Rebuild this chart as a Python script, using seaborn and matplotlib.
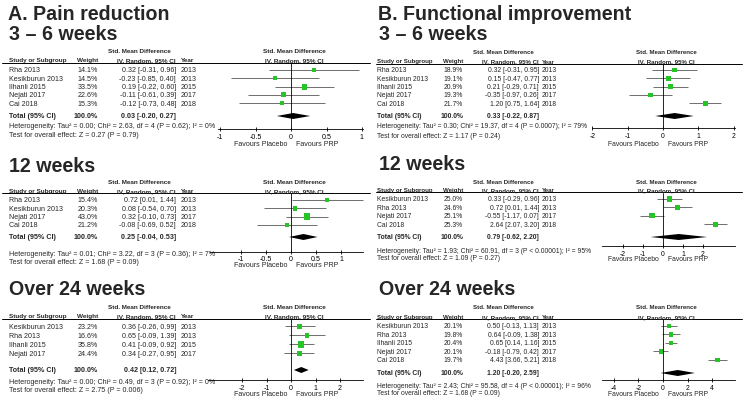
import numpy as np
import matplotlib
matplotlib.use("Agg")
import matplotlib.pyplot as plt
import seaborn as sns

sns.set_theme(style="white")
plt.rcParams['font.family'] = ['Liberation Sans', 'DejaVu Sans']

# ---- data: A. pain reduction ----
pain_3_6_study = ["Rha 2013", "Kesikburun 2013", "Ilhanli 2015", "Nejati 2017", "Cai 2018"]
pain_3_6_weight = [14.1, 14.5, 33.5, 22.6, 15.3]
pain_3_6_smd = [0.32, -0.23, 0.19, -0.11, -0.12]
pain_3_6_lo = [-0.31, -0.85, -0.22, -0.61, -0.73]
pain_3_6_hi = [0.96, 0.40, 0.60, 0.39, 0.48]
pain_3_6_year = [2013, 2013, 2015, 2017, 2018]
pain_3_6_total = [0.03, -0.20, 0.27]
pain_3_6_het = "Heterogeneity: Tau\u00b2 = 0.00; Chi\u00b2 = 2.63, df = 4 (P = 0.62); I\u00b2 = 0%"
pain_3_6_test = "Test for overall effect: Z = 0.27 (P = 0.79)"
pain_3_6_ticks = [-1, -0.5, 0, 0.5, 1]

pain_12_study = ["Rha 2013", "Kesikburun 2013", "Nejati 2017", "Cai 2018"]
pain_12_weight = [15.4, 20.3, 43.0, 21.2]
pain_12_smd = [0.72, 0.08, 0.32, -0.08]
pain_12_lo = [0.01, -0.54, -0.10, -0.69]
pain_12_hi = [1.44, 0.70, 0.73, 0.52]
pain_12_year = [2013, 2013, 2017, 2018]
pain_12_total = [0.25, -0.04, 0.53]
pain_12_het = "Heterogeneity: Tau\u00b2 = 0.01; Chi\u00b2 = 3.22, df = 3 (P = 0.36); I\u00b2 = 7%"
pain_12_test = "Test for overall effect: Z = 1.68 (P = 0.09)"
pain_12_ticks = [-1, -0.5, 0, 0.5, 1]

pain_24_study = ["Kesikburun 2013", "Rha 2013", "Ilhanli 2015", "Nejati 2017"]
pain_24_weight = [23.2, 16.6, 35.8, 24.4]
pain_24_smd = [0.36, 0.65, 0.41, 0.34]
pain_24_lo = [-0.26, -0.09, -0.09, -0.27]
pain_24_hi = [0.99, 1.39, 0.92, 0.95]
pain_24_year = [2013, 2013, 2015, 2017]
pain_24_total = [0.42, 0.12, 0.72]
pain_24_het = "Heterogeneity: Tau\u00b2 = 0.00; Chi\u00b2 = 0.49, df = 3 (P = 0.92); I\u00b2 = 0%"
pain_24_test = "Test for overall effect: Z = 2.75 (P = 0.006)"
pain_24_ticks = [-2, -1, 0, 1, 2]

# ---- data: B. functional improvement ----
func_3_6_study = ["Rha 2013", "Kesikburun 2013", "Ilhanli 2015", "Nejati 2017", "Cai 2018"]
func_3_6_weight = [18.9, 19.1, 20.9, 19.3, 21.7]
func_3_6_smd = [0.32, 0.15, 0.21, -0.35, 1.20]
func_3_6_lo = [-0.31, -0.47, -0.29, -0.97, 0.75]
func_3_6_hi = [0.95, 0.77, 0.71, 0.26, 1.64]
func_3_6_year = [2013, 2013, 2015, 2017, 2018]
func_3_6_total = [0.33, -0.22, 0.87]
func_3_6_het = "Heterogeneity: Tau\u00b2 = 0.30; Chi\u00b2 = 19.37, df = 4 (P = 0.0007); I\u00b2 = 79%"
func_3_6_test = "Test for overall effect: Z = 1.17 (P = 0.24)"
func_3_6_ticks = [-2, -1, 0, 1, 2]

func_12_study = ["Kesikburun 2013", "Rha 2013", "Nejati 2017", "Cai 2018"]
func_12_weight = [25.0, 24.6, 25.1, 25.3]
func_12_smd = [0.33, 0.72, -0.55, 2.64]
func_12_lo = [-0.29, 0.01, -1.17, 2.07]
func_12_hi = [0.96, 1.44, 0.07, 3.20]
func_12_year = [2013, 2013, 2017, 2018]
func_12_total = [0.79, -0.62, 2.20]
func_12_het = "Heterogeneity: Tau\u00b2 = 1.93; Chi\u00b2 = 60.91, df = 3 (P < 0.00001); I\u00b2 = 95%"
func_12_test = "Test for overall effect: Z = 1.09 (P = 0.27)"
func_12_ticks = [-2, -1, 0, 1, 2]

func_24_study = ["Kesikburun 2013", "Rha 2013", "Ilhanli 2015", "Nejati 2017", "Cai 2018"]
func_24_weight = [20.1, 19.8, 20.4, 20.1, 19.7]
func_24_smd = [0.50, 0.64, 0.65, -0.18, 4.43]
func_24_lo = [-0.13, -0.09, 0.14, -0.79, 3.66]
func_24_hi = [1.13, 1.38, 1.16, 0.42, 5.21]
func_24_year = [2013, 2013, 2015, 2017, 2018]
func_24_total = [1.20, -0.20, 2.59]
func_24_het = "Heterogeneity: Tau\u00b2 = 2.43; Chi\u00b2 = 95.58, df = 4 (P < 0.00001); I\u00b2 = 96%"
func_24_test = "Test for overall effect: Z = 1.68 (P = 0.09)"
func_24_ticks = [-4, -2, 0, 2, 4]

period_titles = ["3 \u2013 6 weeks", "12 weeks", "Over 24 weeks"]

W, H = 745, 406
GREEN = "#27c427"
TITLE_FS = 14.1

fig = plt.figure(figsize=(W / 100, H / 100), dpi=100)

# panel columns (pixel x)
left_cols = dict(ox=0, title=9, study=9, weight=98, ci=176, year=181, smd=139, zero=291, line0=2,
                 fs=5.1, hfs=4.6)
right_cols = dict(ox=372, title=379, study=377, weight=463, ci=539, year=542, smd=503, zero=663, line0=376,
                  fs=4.85, hfs=4.4)

# block layouts (pixel y) and forest scale (px per unit), axis bounds
lay_left = [
    dict(title=35, smd=52, study=61, line=64, row0=71, dy=8.3, total=117, het=127, test=136, axis=130, fav=145,
         scale=71, bounds=(-1.03, 1.02)),
    dict(title=167, smd=183, study=191.5, line=194, row0=201, dy=8.3, total=238, het=254, test=263, axis=252.5, fav=266,
         scale=50, bounds=(-1.62, 1.44)),
    dict(title=290, smd=308, study=317, line=320, row0=327.5, dy=9, total=371, het=382.5, test=391, axis=381, fav=395,
         scale=24.5, bounds=(-3.39, 2.94)),
]
lay_right = [
    dict(title=35, smd=52, study=62, line=64.5, row0=71, dy=8.3, total=117, het=127, test=136, axis=129, fav=144,
         scale=35.3, bounds=(-2.0, 2.04)),
    dict(title=165, smd=183, study=191, line=193.5, row0=200, dy=8.4, total=238, het=251.5, test=259, axis=247, fav=260,
         scale=20, bounds=(-3.05, 3.6)),
    dict(title=290, smd=308, study=318, line=320, row0=327, dy=8.5, total=374, het=386.5, test=394, axis=381, fav=395,
         scale=12.3, bounds=(-4.96, 5.85)),
]


def draw_block(cols, lay, study, weight, smd, lo, hi, year, total, het, test, ticks, title):
    ox, zero, fs, hfs = cols["ox"], cols["zero"], cols["fs"], cols["hfs"]
    top, bot = lay["line"], lay["axis"]

    tab = fig.add_axes([ox / W, 1 - bot / H, 372 / W, (bot - top) / H])
    tab.set_xlim(ox, ox + 372)
    tab.set_ylim(bot, top)
    tab.axis("off")

    rows = lay["row0"] + lay["dy"] * np.arange(len(study))

    tab.text(cols["title"], lay["title"], title, fontsize=TITLE_FS, fontweight="bold", va="center", ha="left")
    tab.plot([cols["line0"], ox + 370], [top, top], color="black", lw=0.7, clip_on=False)

    # table header
    hk = dict(fontsize=hfs, fontweight="bold", va="center")
    tab.text(cols["smd"], lay["smd"], "Std. Mean Difference", ha="center", **hk)
    tab.text(cols["study"], lay["study"], "Study or Subgroup", ha="left", **hk)
    tab.text(cols["weight"], lay["study"], "Weight", ha="right", **hk)
    tab.text(cols["ci"], lay["study"], "IV, Random, 95% CI", ha="right", **hk)
    tab.text(cols["year"], lay["study"], "Year", ha="left", **hk)
    tab.text(zero + 3, lay["smd"], "Std. Mean Difference", ha="center", **hk)
    tab.text(zero + 3, lay["study"], "IV, Random, 95% CI", ha="center", **hk)

    tk = dict(fontsize=fs, va="center")
    for y, s, w, m, l, h, yr in zip(rows, study, weight, smd, lo, hi, year):
        tab.text(cols["study"], y, s, ha="left", **tk)
        tab.text(cols["weight"], y, f"{w:.1f}%", ha="right", **tk)
        tab.text(cols["ci"], y, f"{m:.2f} [{l:.2f}, {h:.2f}]", ha="right", **tk)
        tab.text(cols["year"], y, str(yr), ha="left", **tk)

    bk = dict(fontsize=fs, fontweight="bold", va="center")
    tab.text(cols["study"], lay["total"], "Total (95% CI)", ha="left", **bk)
    tab.text(cols["weight"], lay["total"], "100.0%", ha="right", **bk)
    tab.text(cols["ci"], lay["total"], f"{total[0]:.2f} [{total[1]:.2f}, {total[2]:.2f}]", ha="right", **bk)
    tab.text(cols["study"], lay["het"], het, ha="left", **tk)
    tab.text(cols["study"], lay["test"], test, ha="left", **tk)
    tab.text(zero - 4, lay["fav"], "Favours Placebo", ha="right", **tk)
    tab.text(zero + 5, lay["fav"], "Favours PRP", ha="left", **tk)

    # forest
    x0, x1 = ox + 200, ox + 370
    ax = fig.add_axes([x0 / W, 1 - bot / H, (x1 - x0) / W, (bot - top) / H])
    ax.set_facecolor("none")
    ax.set_xlim((x0 - zero) / lay["scale"], (x1 - zero) / lay["scale"])
    ax.set_ylim(bot, top)
    ax.hlines(rows, lo, hi, color="#6e6e6e", lw=0.7, zorder=1)
    sns.scatterplot(x=smd, y=rows, size=weight, sizes=(0, 24), size_norm=(0, 45), marker="s",
                    color=GREEN, linewidth=0, legend=False, ax=ax, zorder=3)
    ty = lay["total"]
    ax.fill([total[1], total[0], total[2], total[0]], [ty, ty - 3, ty, ty + 3], color="black", lw=0, zorder=3)
    ax.axvline(0, color="black", lw=0.6, zorder=2)

    for side in ["top", "right", "left"]:
        ax.spines[side].set_visible(False)
    ax.spines["bottom"].set_color("black")
    ax.spines["bottom"].set_linewidth(0.6)
    ax.spines["bottom"].set_bounds(*lay["bounds"])
    ax.set_xticks(ticks)
    ax.set_xticklabels([f"{t:g}" for t in ticks])
    ax.set_yticks([])
    ax.tick_params(axis="x", direction="inout", length=3.5, width=0.6, labelsize=fs, pad=0.8,
                   bottom=True, colors="black")
    ax.set_xlabel("")
    ax.set_ylabel("")


fig.text(8 / W, 1 - 15 / H, "A. Pain reduction", fontsize=TITLE_FS, fontweight="bold", va="center", ha="left")
fig.text(378 / W, 1 - 15 / H, "B. Functional improvement", fontsize=TITLE_FS, fontweight="bold", va="center", ha="left")

pain_blocks = [
    (pain_3_6_study, pain_3_6_weight, pain_3_6_smd, pain_3_6_lo, pain_3_6_hi, pain_3_6_year,
     pain_3_6_total, pain_3_6_het, pain_3_6_test, pain_3_6_ticks),
    (pain_12_study, pain_12_weight, pain_12_smd, pain_12_lo, pain_12_hi, pain_12_year,
     pain_12_total, pain_12_het, pain_12_test, pain_12_ticks),
    (pain_24_study, pain_24_weight, pain_24_smd, pain_24_lo, pain_24_hi, pain_24_year,
     pain_24_total, pain_24_het, pain_24_test, pain_24_ticks),
]
func_blocks = [
    (func_3_6_study, func_3_6_weight, func_3_6_smd, func_3_6_lo, func_3_6_hi, func_3_6_year,
     func_3_6_total, func_3_6_het, func_3_6_test, func_3_6_ticks),
    (func_12_study, func_12_weight, func_12_smd, func_12_lo, func_12_hi, func_12_year,
     func_12_total, func_12_het, func_12_test, func_12_ticks),
    (func_24_study, func_24_weight, func_24_smd, func_24_lo, func_24_hi, func_24_year,
     func_24_total, func_24_het, func_24_test, func_24_ticks),
]

for lay, blk, ttl in zip(lay_left, pain_blocks, period_titles):
    draw_block(left_cols, lay, *blk, ttl)
for lay, blk, ttl in zip(lay_right, func_blocks, period_titles):
    draw_block(right_cols, lay, *blk, ttl)

fig.savefig("out.png", dpi=100)
